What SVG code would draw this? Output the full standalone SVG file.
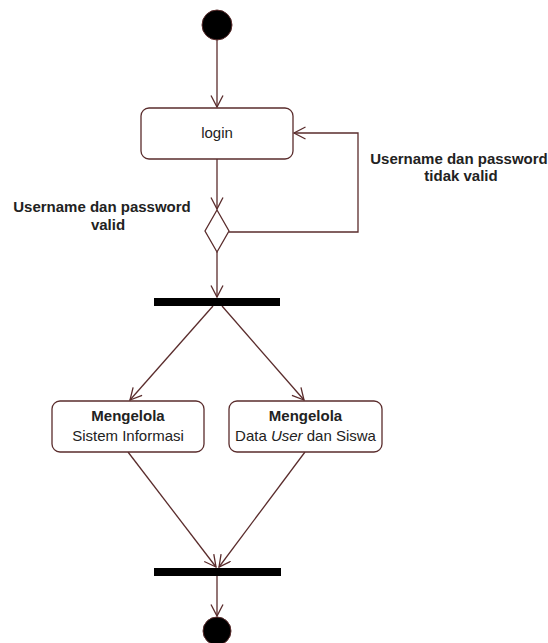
<svg xmlns="http://www.w3.org/2000/svg" width="548" height="643" viewBox="0 0 548 643">
<style>
.edge{fill:none;stroke:#5a2c2c;stroke-width:1.3}
.node{fill:#ffffff;stroke:#5a2c2c;stroke-width:1.3}
.bar{fill:#000000}
.dot{fill:#000000;stroke:#5a2c2c;stroke-width:1}
text{font-family:"Liberation Sans",Arial,sans-serif;font-size:15px;fill:#222222;text-anchor:middle}
.b{font-weight:bold}
</style>
<defs>
<marker id="open" markerUnits="userSpaceOnUse" markerWidth="14" markerHeight="14" refX="12" refY="6.5" orient="auto">
<path d="M0.5,0.5 L12,6.5 L0.5,12.5" fill="none" stroke="#5a2c2c" stroke-width="1.3"/>
</marker>
</defs>
<rect width="548" height="643" fill="#ffffff"/>
<g id="connectors">
<line class="edge" x1="217" y1="40" x2="217" y2="107" marker-end="url(#open)"/>
<line class="edge" x1="217" y1="159" x2="217" y2="209" marker-end="url(#open)"/>
<polyline class="edge" points="229,232 358,232 358,133 294,133" marker-end="url(#open)"/>
<line class="edge" x1="217" y1="252" x2="217" y2="297" marker-end="url(#open)"/>
<line class="edge" x1="213" y1="306" x2="130" y2="400" marker-end="url(#open)"/>
<line class="edge" x1="222" y1="306" x2="304" y2="400" marker-end="url(#open)"/>
<line class="edge" x1="128" y1="452" x2="216" y2="567" marker-end="url(#open)"/>
<line class="edge" x1="305" y1="452" x2="219" y2="567" marker-end="url(#open)"/>
<line class="edge" x1="217" y1="576" x2="217" y2="616" marker-end="url(#open)"/>
</g>
<g id="labels">
<text class="b" x="102" y="212">Username dan password</text>
<text class="b" x="108" y="230">valid</text>
<text class="b" x="459" y="164">Username dan password</text>
<text class="b" x="461" y="181">tidak valid</text>
</g>
<g id="start"><circle class="dot" cx="217" cy="25" r="15"/></g>
<g id="login">
<rect class="node" x="141" y="108" width="152" height="51" rx="8"/>
<text x="217" y="138">login</text>
</g>
<g id="decision"><polygon class="node" points="217,210 229,231 217,252 205,231"/></g>
<g id="fork"><rect class="bar" x="154" y="298" width="126" height="8"/></g>
<g id="sistem">
<rect class="node" x="52" y="401" width="152" height="51" rx="8"/>
<text class="b" x="128" y="421">Mengelola</text>
<text x="128" y="441">Sistem Informasi</text>
</g>
<g id="datauser">
<rect class="node" x="229" y="401" width="153" height="51" rx="8"/>
<text class="b" x="305.5" y="421">Mengelola</text>
<text x="305.5" y="441">Data <tspan font-style="italic">User</tspan> dan Siswa</text>
</g>
<g id="join"><rect class="bar" x="154" y="568" width="127" height="8"/></g>
<g id="end"><circle class="dot" cx="217" cy="631" r="14"/></g>
</svg>
